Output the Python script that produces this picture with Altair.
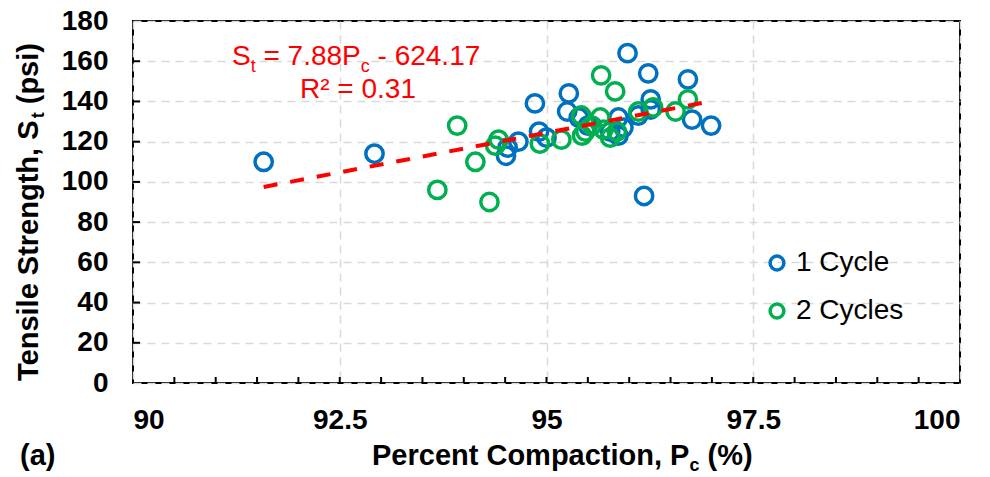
import altair as alt
import pandas as pd

# ---- data -------------------------------------------------------------
cycle1_pc = [91.58, 92.92, 94.51, 94.53, 94.66, 94.86, 94.91, 95.00, 95.25, 95.27,
             95.39, 95.50, 95.77, 95.87, 95.87, 95.93, 95.98, 96.11, 96.18, 96.23,
             96.26, 96.26, 96.71, 96.76, 96.99]
cycle1_st = [110, 114, 113, 117, 120, 139, 125, 122, 135, 144,
             132, 128, 125, 123, 132, 127, 164, 133, 93, 154,
             141, 136, 151, 131, 128]

cycle2_pc = [93.68, 93.92, 94.14, 94.31, 94.38, 94.42, 94.92, 95.18, 95.42, 95.43,
             95.47, 95.55, 95.65, 95.66, 95.69, 95.77, 95.83, 95.85, 96.11, 96.29,
             96.56, 96.71]
cycle2_st = [96, 128, 110, 90, 118, 121, 119, 121, 133, 123,
             125, 128, 132, 153, 126, 122, 145, 125, 135, 137,
             135, 141]

series_names = ["1 Cycle", "2 Cycles"]
series_colors = ["#0070C0", "#00B050"]

# linear fit shown on the chart: St = 7.88 Pc - 624.17
fit_slope = 7.88
fit_intercept = -624.17
fit_r2 = 0.31

x_labels = [90, 92.5, 95, 97.5, 100]
x_minor = [90 + 0.5 * i for i in range(1, 20)]
y_labels = [0, 20, 40, 60, 80, 100, 120, 140, 160, 180]
y_minor = [20, 40, 60, 80, 100, 120, 140, 160]

# ---- layout -----------------------------------------------------------
W, H = 827, 362
FONT = "Liberation Sans"

points = pd.DataFrame({
    "pc": cycle1_pc + cycle2_pc,
    "st": cycle1_st + cycle2_st,
    "series": [series_names[0]] * len(cycle1_pc) + [series_names[1]] * len(cycle2_pc),
})

all_pc = cycle1_pc + cycle2_pc
fit_x = [min(all_pc), max(all_pc)]
fit = pd.DataFrame({"pc": fit_x, "st": [fit_slope * v + fit_intercept for v in fit_x]})

xs = alt.Scale(domain=[90, 100], nice=False, zero=False)
ys = alt.Scale(domain=[0, 180], nice=False, zero=False)

x_axis = alt.Axis(values=x_labels, labelExpr="'' + datum.value", title=None,
                  grid=True, gridDash=[8, 6], gridColor="#d9d9d9", gridWidth=1.5,
                  ticks=False, domain=False, labelFont=FONT, labelFontSize=28,
                  labelFontWeight="bold", labelColor="#000", labelPadding=23)
y_axis = alt.Axis(values=y_labels, title=None,
                  grid=True, gridDash=[8, 6], gridColor="#d9d9d9", gridWidth=1.5,
                  ticks=False, domain=False, labelFont=FONT, labelFontSize=28,
                  labelFontWeight="bold", labelColor="#000", labelPadding=25)

base_points = alt.Chart(points).mark_point(
    filled=False, size=300, strokeWidth=3.5, opacity=1
).encode(
    x=alt.X("pc:Q", scale=xs, axis=x_axis),
    y=alt.Y("st:Q", scale=ys, axis=y_axis),
    color=alt.Color("series:N",
                    scale=alt.Scale(domain=series_names, range=series_colors),
                    legend=alt.Legend(title=None, orient="none", legendX=630, legendY=228,
                                      labelFont=FONT, labelFontSize=28, labelColor="#000",
                                      symbolType="circle", symbolSize=190,
                                      symbolStrokeWidth=3.5, symbolFillColor="white",
                                      rowPadding=20, labelOffset=5, padding=0)),
)

trend = alt.Chart(fit).mark_line(color="#FF0000", strokeWidth=4, strokeDash=[14, 13]).encode(
    x=alt.X("pc:Q", scale=xs), y=alt.Y("st:Q", scale=ys)
)

xt = alt.Chart(pd.DataFrame({"pc": x_minor})).mark_rule(color="#000", strokeWidth=2).encode(
    x=alt.X("pc:Q", scale=xs), y=alt.value(H), y2=alt.value(H - 6)
)
yt = alt.Chart(pd.DataFrame({"st": y_minor})).mark_rule(color="#000", strokeWidth=2).encode(
    y=alt.Y("st:Q", scale=ys), x=alt.value(0), x2=alt.value(7)
)

# ---- rich text (subscripts) ----------------------------------------------
REG = {" ": 278, "S": 667, "t": 278, "=": 584, ".": 278, "P": 667, "c": 500,
       "-": 333, "R": 722, "\u00b2": 333, "a": 556, "(": 333, ")": 333}
BOLD = {" ": 278, "(": 333, ")": 333, ",": 278, "%": 889, "P": 667, "e": 556,
        "r": 389, "c": 556, "n": 611, "t": 333, "C": 722, "o": 611, "m": 889,
        "p": 611, "a": 556, "i": 278, "T": 611, "s": 556, "l": 278, "S": 667,
        "g": 611, "h": 611}


def text_width(s, size, table):
    return sum(table.get(ch, 556) for ch in s) * size / 1000.0


def rich(segments, x0, y0, weight, color, table, vertical=False):
    """Lay out text runs of different sizes one after another (for subscripts).

    Leading/trailing blanks are turned into offsets, since they are trimmed
    when rendered."""
    layers = []
    d = 0.0
    for txt, size, shift in segments:
        lead = len(txt) - len(txt.lstrip(" "))
        d += lead * table[" "] * size / 1000.0
        core = txt.strip(" ")
        if vertical:
            px, py, ang = x0 + shift, y0 - d, 270
        else:
            px, py, ang = x0 + d, y0 + shift, 0
        layers.append(
            alt.Chart(pd.DataFrame({"t": [core]})).mark_text(
                font=FONT, fontSize=size, fontWeight=weight, color=color,
                align="left", baseline="alphabetic", angle=ang
            ).encode(text="t:N", x=alt.value(px), y=alt.value(py))
        )
        d += text_width(txt.lstrip(" "), size, table)
    return layers


eq1 = rich([("S", 28, 0), ("t", 18, 7), (f" = {fit_slope:.2f}P", 28, 0), ("c", 18, 7),
            (f" - {abs(fit_intercept):.2f}", 28, 0)], 99, 44, "normal", "#FF0000", REG)
eq2 = rich([(f"R\u00b2 = {fit_r2:.2f}", 28, 0)], 167, 77, "normal", "#FF0000", REG)
xtitle = rich([("Percent Compaction, P", 29, 0), ("c", 18, 6), (" (%)", 29, 0)],
              239, 444, "bold", "#000", BOLD)
ytitle = rich([("Tensile Strength, S", 29, 0), ("t", 18, 6), (" (psi)", 29, 0)],
              -95, 360, "bold", "#000", BOLD, vertical=True)
panel = rich([("(a)", 29, 0)], -113, 444, "bold", "#000", BOLD)

chart = alt.layer(
    yt, xt, base_points, trend, *eq1, *eq2, *xtitle, *ytitle, *panel
).properties(
    width=W, height=H,
    autosize=alt.AutoSizeParams(type="none"),
    padding={"left": 133, "top": 21, "right": 30, "bottom": 94},
    background="white",
).configure_view(stroke="#000", strokeWidth=2)

chart.save("out.html", embed_options={"renderer": "svg", "actions": False})
